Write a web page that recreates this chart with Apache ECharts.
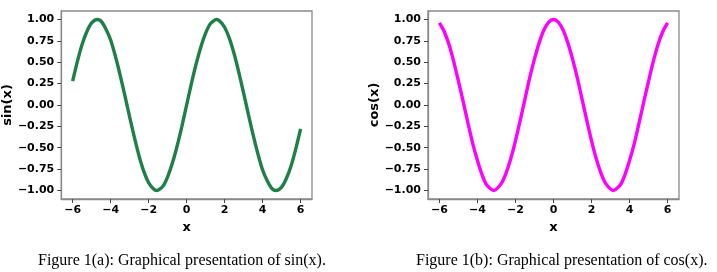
<!DOCTYPE html>
<html>
<head>
<meta charset="utf-8">
<script src="https://cdn.jsdelivr.net/npm/echarts@6/dist/echarts.min.js"></script>
<style>
  html, body { margin: 0; padding: 0; background: #fff; }
  #chart { width: 717px; height: 272px; }
</style>
</head>
<body>
<div id="chart"></div>
<script>
// sin(x) panel: x samples and values
var sinX = [-6, -5.75, -5.5, -5.25, -5, -4.71, -4.5, -4.25, -4, -3.75, -3.5, -3.25, -3,
  -2.75, -2.5, -2.25, -2, -1.75, -1.57, -1.25, -1, -0.75, -0.5, -0.25, 0,
  0.25, 0.5, 0.75, 1, 1.25, 1.57, 1.75, 2, 2.25, 2.5, 2.75, 3,
  3.25, 3.5, 3.75, 4, 4.25, 4.5, 4.71, 5, 5.25, 5.5, 5.75, 6];
var sinVals = [0.28, 0.51, 0.71, 0.86, 0.96, 1.00, 0.98, 0.89, 0.76, 0.57, 0.35, 0.11, -0.14,
  -0.38, -0.60, -0.78, -0.91, -0.98, -1.00, -0.95, -0.84, -0.68, -0.48, -0.25, 0.00,
  0.25, 0.48, 0.68, 0.84, 0.95, 1.00, 0.98, 0.91, 0.78, 0.60, 0.38, 0.14,
  -0.11, -0.35, -0.57, -0.76, -0.89, -0.98, -1.00, -0.96, -0.86, -0.71, -0.51, -0.28];

// cos(x) panel
var cosX = [-6, -5.75, -5.5, -5.25, -5, -4.75, -4.5, -4.25, -4, -3.75, -3.5, -3.14,
  -2.75, -2.5, -2.25, -2, -1.75, -1.5, -1.25, -1, -0.75, -0.5, -0.25, 0,
  0.25, 0.5, 0.75, 1, 1.25, 1.5, 1.75, 2, 2.25, 2.5, 2.75,
  3.14, 3.5, 3.75, 4, 4.25, 4.5, 4.75, 5, 5.25, 5.5, 5.75, 6];
var cosVals = [0.96, 0.86, 0.71, 0.51, 0.28, 0.04, -0.21, -0.45, -0.65, -0.82, -0.94, -1.00,
  -0.92, -0.80, -0.63, -0.42, -0.18, 0.07, 0.32, 0.54, 0.73, 0.88, 0.97, 1.00,
  0.97, 0.88, 0.73, 0.54, 0.32, 0.07, -0.18, -0.42, -0.63, -0.80, -0.92,
  -1.00, -0.94, -0.82, -0.65, -0.45, -0.21, 0.04, 0.28, 0.51, 0.71, 0.86, 0.96];

var xTicks = [-6, -4, -2, 0, 2, 4, 6];
var yTicks = [-1, -0.75, -0.5, -0.25, 0, 0.25, 0.5, 0.75, 1];

var captions = [
  'Figure 1(a): Graphical presentation of sin(x).',
  'Figure 1(b): Graphical presentation of cos(x).'
];

function pairs(xs, ys) {
  return xs.map(function (x, i) { return [x, ys[i]]; });
}

var spine = '#8a8a8a';
var tickFont = { fontFamily: 'DejaVu Sans', fontWeight: 'bold', fontSize: 11, color: '#000' };
var nameFont = { fontFamily: 'DejaVu Sans', fontWeight: 'bold', fontSize: 13, color: '#000' };

function xAxisFor(idx) {
  return {
    type: 'value', gridIndex: idx, min: -6.6, max: 6.6,
    name: 'x', nameLocation: 'middle', nameGap: 15,
    nameTextStyle: nameFont,
    axisLine: { show: true, onZero: false, lineStyle: { color: spine, width: 1.3 } },
    axisTick: { show: true, length: 4, customValues: xTicks, lineStyle: { color: '#444', width: 1 } },
    axisLabel: Object.assign({
      margin: 6, customValues: xTicks,
      formatter: function (v) { return String(v).replace('-', '\u2212'); }
    }, tickFont),
    splitLine: { show: false }
  };
}

function yAxisFor(idx, label) {
  return {
    type: 'value', gridIndex: idx, min: -1.1, max: 1.1,
    name: label, nameLocation: 'middle', nameGap: 39,
    nameTextStyle: nameFont,
    axisLine: { show: true, onZero: false, lineStyle: { color: spine, width: 1.3 } },
    axisTick: { show: true, length: 4, customValues: yTicks, lineStyle: { color: '#444', width: 1 } },
    axisLabel: Object.assign({
      margin: 7, customValues: yTicks,
      formatter: function (v) { return v.toFixed(2).replace('-', '\u2212'); }
    }, tickFont),
    splitLine: { show: false }
  };
}

var chart = echarts.init(document.getElementById('chart'), null, { renderer: 'canvas' });

var captionStyle = { fontFamily: 'Liberation Serif', fontWeight: 'normal', fontSize: 16, color: '#000' };

var option = {
  animation: false,
  backgroundColor: '#fff',
  title: [
    { text: captions[0], left: 33, top: 248, textStyle: captionStyle },
    { text: captions[1], left: 411, top: 248, textStyle: captionStyle }
  ],
  grid: [
    { left: 60, top: 11, width: 252, height: 188, show: true, borderColor: spine, borderWidth: 1.3, backgroundColor: 'transparent' },
    { left: 428, top: 11, width: 251, height: 188, show: true, borderColor: spine, borderWidth: 1.3, backgroundColor: 'transparent' }
  ],
  xAxis: [xAxisFor(0), xAxisFor(1)],
  yAxis: [yAxisFor(0, 'sin(x)'), yAxisFor(1, 'cos(x)')],
  series: [
    { name: 'sin(x)', type: 'line', xAxisIndex: 0, yAxisIndex: 0, data: pairs(sinX, sinVals),
      showSymbol: false, smooth: 0.25, lineStyle: { color: '#1f7f48', width: 3.4 } },
    { name: 'cos(x)', type: 'line', xAxisIndex: 1, yAxisIndex: 1, data: pairs(cosX, cosVals),
      showSymbol: false, smooth: 0.25, lineStyle: { color: '#ff00ff', width: 3.4 } }
  ]
};

chart.setOption(option);
</script>
</body>
</html>
